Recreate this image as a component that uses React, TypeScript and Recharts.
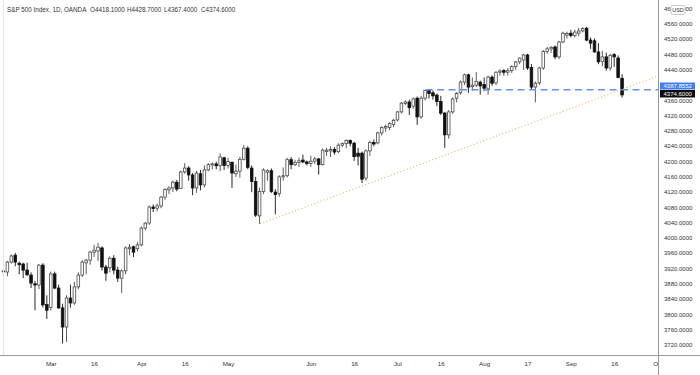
import { ComposedChart, Bar, XAxis, YAxis, ReferenceLine } from "recharts";

// daily candles, OANDA S&P 500 CFD (weekdays, holidays included)
const dates = [
  "02-11", "02-12", "02-15", "02-16", "02-17", "02-18", "02-19", "02-22", "02-23", "02-24", "02-25", "02-26",
  "03-01", "03-02", "03-03", "03-04", "03-05", "03-08", "03-09", "03-10", "03-11", "03-12", "03-15", "03-16",
  "03-17", "03-18", "03-19", "03-22", "03-23", "03-24", "03-25", "03-26", "03-29", "03-30", "03-31",
  "04-01", "04-02", "04-05", "04-06", "04-07", "04-08", "04-09", "04-12", "04-13", "04-14", "04-15", "04-16",
  "04-19", "04-20", "04-21", "04-22", "04-23", "04-26", "04-27", "04-28", "04-29", "04-30",
  "05-03", "05-04", "05-05", "05-06", "05-07", "05-10", "05-11", "05-12", "05-13", "05-14", "05-17", "05-18",
  "05-19", "05-20", "05-21", "05-24", "05-25", "05-26", "05-27", "05-28", "05-31",
  "06-01", "06-02", "06-03", "06-04", "06-07", "06-08", "06-09", "06-10", "06-11", "06-14", "06-15", "06-16",
  "06-17", "06-18", "06-21", "06-22", "06-23", "06-24", "06-25", "06-28", "06-29", "06-30",
  "07-01", "07-02", "07-05", "07-06", "07-07", "07-08", "07-09", "07-12", "07-13", "07-14", "07-15", "07-16",
  "07-19", "07-20", "07-21", "07-22", "07-23", "07-26", "07-27", "07-28", "07-29", "07-30",
  "08-02", "08-03", "08-04", "08-05", "08-06", "08-09", "08-10", "08-11", "08-12", "08-13", "08-16", "08-17",
  "08-18", "08-19", "08-20", "08-23", "08-24", "08-25", "08-26", "08-27", "08-30", "08-31",
  "09-01", "09-02", "09-03", "09-06", "09-07", "09-08", "09-09", "09-10", "09-13", "09-14", "09-15", "09-16",
  "09-17", "09-20",
];

const opens = [
  3912, 3911, 3937, 3955, 3934, 3932, 3916, 3903, 3880, 3877, 3929, 3826,
  3818, 3906, 3869, 3817, 3767, 3843, 3830, 3872, 3903, 3935, 3942, 3963,
  3966, 3974, 3924, 3922, 3947, 3916, 3895, 3914, 3972, 3977, 3972,
  3982, 4026, 4039, 4081, 4078, 4084, 4107, 4126, 4131, 4146, 4130, 4173,
  4183, 4165, 4131, 4168, 4139, 4178, 4192, 4194, 4190, 4210,
  4190, 4198, 4168, 4175, 4206, 4235, 4183, 4148, 4058, 4122, 4172, 4176,
  4120, 4116, 4160, 4163, 4205, 4192, 4198, 4204, 4199,
  4195, 4201, 4207, 4192, 4226, 4228, 4232, 4226, 4243, 4247, 4255, 4248,
  4222, 4222, 4157, 4228, 4250, 4249, 4275, 4288, 4289, 4297,
  4309, 4330, 4352, 4356, 4345, 4366, 4317, 4366, 4386, 4380, 4374, 4357,
  4327, 4270, 4330, 4366, 4380, 4408, 4427, 4396, 4400, 4408,
  4402, 4392, 4421, 4406, 4434, 4438, 4434, 4438, 4449, 4461, 4466, 4479,
  4446, 4395, 4406, 4445, 4488, 4495, 4500, 4474, 4513, 4531,
  4536, 4530, 4536, 4542, 4549, 4518, 4516, 4487, 4462, 4474, 4445, 4480,
  4471, 4418.1,
];

const highs = [
  3925, 3940, 3957, 3961, 3938, 3935, 3935, 3910, 3888, 3932, 3934, 3850,
  3912, 3912, 3878, 3828, 3850, 3878, 3885, 3910, 3942, 3945, 3966, 3982,
  3987, 3978, 3930, 3952, 3955, 3925, 3918, 3978, 3984, 3980, 3990,
  4030, 4042, 4085, 4088, 4090, 4110, 4130, 4135, 4150, 4152, 4176, 4196,
  4188, 4170, 4176, 4178, 4190, 4196, 4198, 4200, 4222, 4212,
  4210, 4200, 4192, 4212, 4243, 4240, 4190, 4160, 4132, 4182, 4180, 4182,
  4128, 4164, 4185, 4210, 4212, 4205, 4210, 4218, 4203,
  4215, 4212, 4209, 4234, 4236, 4240, 4238, 4248, 4250, 4258, 4258, 4252,
  4236, 4226, 4232, 4255, 4258, 4278, 4292, 4297, 4303, 4312,
  4332, 4356, 4360, 4362, 4368, 4370, 4372, 4387.8552, 4387, 4386, 4378, 4372,
  4330, 4335, 4368, 4382, 4412, 4430, 4430, 4420, 4434, 4412,
  4420, 4425, 4426, 4436, 4442, 4442, 4445, 4452, 4463, 4472, 4482, 4482,
  4455, 4410, 4448, 4492, 4500, 4502, 4504, 4516, 4540, 4540,
  4545, 4545, 4550, 4552, 4552, 4525, 4522, 4510, 4490, 4485, 4482, 4484,
  4478, 4428.7,
];

const lows = [
  3893, 3900, 3933, 3926, 3905, 3895, 3900, 3869, 3811, 3866, 3818, 3788,
  3810, 3866, 3815, 3724, 3728, 3818, 3825, 3866, 3898, 3905, 3930, 3950,
  3940, 3915, 3888, 3910, 3905, 3885, 3856, 3905, 3955, 3950, 3965,
  3978, 4020, 4034, 4068, 4070, 4078, 4100, 4115, 4120, 4122, 4128, 4168,
  4150, 4112, 4118, 4125, 4132, 4175, 4180, 4180, 4175, 4178,
  4182, 4131, 4160, 4158, 4203, 4180, 4120, 4055, 4037, 4115, 4150, 4118,
  4062, 4108, 4150, 4158, 4180, 4188, 4186, 4196, 4190,
  4186, 4193, 4166, 4190, 4215, 4212, 4218, 4222, 4238, 4235, 4240, 4202,
  4190, 4144, 4150, 4215, 4240, 4245, 4268, 4278, 4282, 4290,
  4305, 4326, 4348, 4322, 4338, 4296, 4312, 4360, 4365, 4362, 4345, 4322,
  4236, 4260, 4325, 4355, 4375, 4400, 4380, 4385, 4395, 4375,
  4385, 4375, 4398, 4400, 4425, 4425, 4425, 4432, 4440, 4455, 4440, 4440,
  4390, 4355, 4400, 4440, 4482, 4485, 4468, 4468, 4510, 4522,
  4525, 4525, 4528, 4538, 4515, 4495, 4485, 4455, 4450, 4438, 4438, 4448,
  4418, 4367.4,
];

const closes = [
  3914, 3937, 3953, 3937, 3930, 3916, 3904, 3882, 3877, 3929, 3825, 3811,
  3906, 3869, 3817, 3767, 3843, 3830, 3872, 3903, 3937, 3942, 3963, 3968,
  3976, 3924, 3908, 3947, 3916, 3895, 3914, 3974, 3976, 3963, 3982,
  4026, 4039, 4081, 4077, 4084, 4107, 4127, 4131, 4146, 4128, 4173, 4183,
  4165, 4131, 4170, 4139, 4178, 4192, 4194, 4189, 4212, 4190,
  4200, 4170, 4175, 4206, 4235, 4185, 4148, 4060, 4122, 4178, 4176, 4122,
  4114, 4160, 4163, 4205, 4192, 4198, 4202, 4199, 4195,
  4201, 4207, 4192, 4230, 4230, 4232, 4225, 4243, 4247, 4255, 4248, 4213,
  4214, 4154, 4228, 4250, 4246, 4275, 4289, 4292, 4300, 4308,
  4330, 4353, 4356, 4341, 4364, 4317, 4366, 4386, 4378, 4372, 4357, 4327,
  4270, 4330, 4364, 4378, 4408, 4427, 4395, 4400, 4410, 4398,
  4392, 4421, 4405, 4434, 4437, 4434, 4438, 4449, 4461, 4471, 4479, 4445,
  4395, 4405, 4445, 4488, 4495, 4499, 4474, 4513, 4536, 4535,
  4530, 4539, 4542, 4548, 4518, 4510, 4487, 4461, 4474, 4445, 4478, 4474,
  4420, 4374.6,
];

const tickIdx = [12, 23, 35, 46, 57, 78, 89, 100, 111, 122, 133, 144, 155, 166];
const tickLabels = ["Mar", "16", "Apr", "16", "May", "Jun", "16", "Jul", "16", "Aug", "17", "Sep", "16", "Oct"];
const priceTicks = [
  3720, 3760, 3800, 3840, 3880, 3920, 3960, 4000, 4040, 4080, 4120, 4160, 4200, 4240,
  4280, 4320, 4360, 4400, 4440, 4480, 4520, 4560, 4600,
];

const srLevel = 4387.8552;
const trendFrom = { i: 65, v: 4037 };
const trendTo = { i: 166, v: 4424 };
const lastOpen = 4418.1;
const lastHigh = 4428.7;
const lastLow = 4367.4;
const lastClose = 4374.6;

const W = 700;
const H = 375;
const AXIS_W = 42;
const PLOT_R = W - AXIS_W;
const PLOT_B = 355;
const FONT = "'Liberation Sans', Arial, sans-serif";

const data = dates.map((d, i) => ({
  i,
  date: d,
  o: opens[i],
  h: highs[i],
  l: lows[i],
  c: closes[i],
}));

function Candle(props: any) {
  const { x, y, width, height, payload } = props;
  if (!payload || height == null) return null;
  const { o, h, l, c } = payload;
  const top = Math.min(y, y + height);
  const k = Math.abs(height) / Math.max(h - l, 0.0001);
  const py = (v: number) => top + (h - v) * k;
  const mid = x + width / 2;
  const up = c >= o;
  const col = up ? "#4a4a4a" : "#111";
  const bTop = py(Math.max(o, c));
  const bH = Math.max(py(Math.min(o, c)) - bTop, 1);
  return (
    <g>
      <line x1={mid} x2={mid} y1={py(h)} y2={py(l)} stroke={col} strokeWidth={0.9} />
      <rect
        x={mid - 1.3}
        y={bTop}
        width={2.6}
        height={bH}
        fill={up ? "#fff" : "#111"}
        stroke={col}
        strokeWidth={0.8}
      />
    </g>
  );
}

function XTick(props: any) {
  const { x, payload } = props;
  const label = tickLabels[tickIdx.indexOf(payload.value)] ?? "";
  const left = x - 12;
  return (
    <svg x={left} y={PLOT_B} width={Math.max(0, Math.min(24, PLOT_R - left))} height={20} overflow="hidden">
      <text x={12} y={11} textAnchor="middle" fontSize={6.2} fill="#333" fontFamily={FONT}>
        {label}
      </text>
    </svg>
  );
}

function YTick(props: any) {
  const { y, payload } = props;
  return (
    <text x={PLOT_R + 6} y={y + 2.1} fontSize={6} fill="#333" fontFamily={FONT}>
      {Number(payload.value).toFixed(4)}
    </text>
  );
}

export default function App() {
  const ohlc = [
    "O" + lastOpen.toFixed(4),
    "H" + lastHigh.toFixed(4),
    "L" + lastLow.toFixed(4),
    "C" + lastClose.toFixed(4),
  ];
  return (
    <div style={{ position: "absolute", left: 0, top: 0, width: W, height: H, background: "#fff" }}>
      <ComposedChart width={W} height={H} data={data} margin={{ top: 0, right: 0, bottom: 0, left: 0 }}>
        <XAxis
          dataKey="i"
          type="number"
          domain={[-1, 166]}
          ticks={tickIdx}
          allowDataOverflow
          axisLine={false}
          tickLine={false}
          height={20}
          tick={<XTick />}
          interval={0}
        />
        <YAxis
          orientation="right"
          width={AXIS_W}
          type="number"
          domain={[3693.8, 4622.9]}
          ticks={priceTicks}
          allowDataOverflow
          axisLine={false}
          tickLine={false}
          tick={<YTick />}
          interval={0}
        />
        <ReferenceLine
          segment={[
            { x: trendFrom.i, y: trendFrom.v },
            { x: trendTo.i, y: trendTo.v },
          ]}
          stroke="#f2aa66"
          strokeWidth={1.1}
          strokeDasharray="1 2.4"
        />
        <ReferenceLine
          segment={[
            { x: 107, y: srLevel },
            { x: 166, y: srLevel },
          ]}
          stroke="#6494ef"
          strokeWidth={1.6}
          strokeDasharray="7 4.5"
        />
        <Bar
          dataKey={(d: any) => [d.l, d.h]}
          barSize={3}
          shape={<Candle />}
          isAnimationActive={false}
        />
      </ComposedChart>
      <svg
        width={W}
        height={H}
        style={{ position: "absolute", left: 0, top: 0, pointerEvents: "none" }}
      >
        <line x1={3.5} x2={3.5} y1={0} y2={PLOT_B} stroke="#e4e4e4" strokeWidth={1} />
        <line x1={0} x2={W} y1={PLOT_B + 0.5} y2={PLOT_B + 0.5} stroke="#9a9a9a" strokeWidth={1} />
        <line x1={PLOT_R + 0.5} x2={PLOT_R + 0.5} y1={0} y2={H} stroke="#9a9a9a" strokeWidth={1} />
        <text x={7} y={12} fontSize={6.3} fill="#333" fontFamily={FONT}>
          S&amp;P 500 Index, 1D, OANDA
        </text>
        {ohlc.map((t, k) => (
          <text key={t} x={90 + k * 37} y={12} fontSize={6.3} fill="#333" fontFamily={FONT}>
            {t}
          </text>
        ))}
        <rect x={671} y={5.5} width={14} height={9} rx={1.5} fill="#fff" stroke="#aaa" strokeWidth={0.6} />
        <text x={678} y={12} textAnchor="middle" fontSize={5.4} fill="#333" fontFamily={FONT}>
          USD
        </text>
        <rect x={660} y={82.5} width={35} height={7} fill="#3f7ef2" />
        <text x={663.5} y={88.2} fontSize={6} fill="#fff" fontFamily={FONT}>
          {srLevel.toFixed(4)}
        </text>
        <rect x={660} y={90} width={35} height={7.5} fill="#0a0a0a" />
        <text x={663.5} y={96} fontSize={6} fill="#fff" fontFamily={FONT}>
          {lastClose.toFixed(4)}
        </text>
      </svg>
    </div>
  );
}
